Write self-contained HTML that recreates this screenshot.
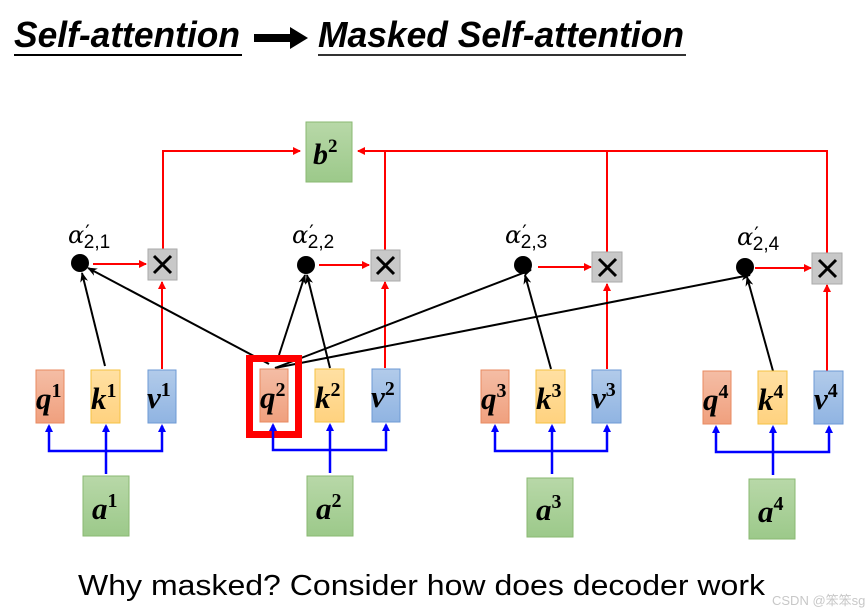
<!DOCTYPE html>
<html><head><meta charset="utf-8"><style>
html,body{margin:0;padding:0;background:#fff;}
svg{display:block;}
</style></head><body>
<svg width="865" height="615" viewBox="0 0 865 615" xmlns="http://www.w3.org/2000/svg">
<defs>
<linearGradient id="gq" x1="0" y1="0" x2="0" y2="1"><stop offset="0" stop-color="#f4bda5"/><stop offset="1" stop-color="#f0a07e"/></linearGradient>
<linearGradient id="gk" x1="0" y1="0" x2="0" y2="1"><stop offset="0" stop-color="#ffe0a3"/><stop offset="1" stop-color="#ffd27f"/></linearGradient>
<linearGradient id="gv" x1="0" y1="0" x2="0" y2="1"><stop offset="0" stop-color="#b2cbea"/><stop offset="1" stop-color="#90b4e2"/></linearGradient>
<linearGradient id="ga" x1="0" y1="0" x2="0" y2="1"><stop offset="0" stop-color="#b8d8a8"/><stop offset="1" stop-color="#9cc98a"/></linearGradient>
<marker id="ar" markerWidth="8" markerHeight="8" refX="7" refY="4" orient="auto" markerUnits="userSpaceOnUse"><path d="M0,0 L8,4 L0,8z" fill="#f00"/></marker>
<marker id="ak" markerWidth="10" markerHeight="8" refX="9" refY="4" orient="auto" markerUnits="userSpaceOnUse"><path d="M0,0 L10,4 L0,8 L3,4z" fill="#000"/></marker>
</defs>

<g font-family="Liberation Sans, sans-serif" font-weight="bold" font-style="italic" font-size="36">
<text x="14" y="47" textLength="226" lengthAdjust="spacingAndGlyphs">Self-attention</text>
<text x="318" y="47" textLength="366" lengthAdjust="spacingAndGlyphs">Masked Self-attention</text>
</g>
<line x1="14" y1="55" x2="242" y2="55" stroke="#000" stroke-width="2"/>
<line x1="318" y1="55" x2="686" y2="55" stroke="#333" stroke-width="2"/>
<path d="M254,34 L290,34 L290,27 L308,38 L290,49 L290,42 L254,42z" fill="#000"/>

<g stroke="#f00" stroke-width="2" fill="none">
<polyline points="163,249 163,151 300,151" marker-end="url(#ar)"/>
<line x1="385" y1="250" x2="385" y2="151"/>
<polyline points="827,253 827,151 358,151" marker-end="url(#ar)"/>
<line x1="607" y1="252" x2="607" y2="151"/>
<line x1="93" y1="264" x2="146" y2="264" marker-end="url(#ar)"/>
<line x1="319" y1="265" x2="369" y2="265" marker-end="url(#ar)"/>
<line x1="538" y1="267" x2="591" y2="267" marker-end="url(#ar)"/>
<line x1="755" y1="268" x2="811" y2="268" marker-end="url(#ar)"/>
<line x1="162" y1="369" x2="162" y2="282" marker-end="url(#ar)"/>
<line x1="385" y1="368" x2="385" y2="282" marker-end="url(#ar)"/>
<line x1="607" y1="369" x2="607" y2="284" marker-end="url(#ar)"/>
<line x1="827" y1="371" x2="827" y2="285" marker-end="url(#ar)"/>
</g>

<rect x="306" y="122" width="46" height="60" fill="url(#ga)" stroke="#8ab872" stroke-width="1"/>
<text x="313" y="164" font-family="Liberation Serif, serif" font-weight="bold" font-style="italic" font-size="30">b<tspan font-size="19" dy="-12" font-style="normal">2</tspan></text>

<g>
<rect x="148" y="249" width="29" height="31" fill="#c8c8c8" stroke="#aaa"/>
<rect x="371" y="250" width="29" height="31" fill="#c8c8c8" stroke="#aaa"/>
<rect x="592" y="252" width="30" height="30" fill="#c8c8c8" stroke="#aaa"/>
<rect x="812" y="253" width="30" height="31" fill="#c8c8c8" stroke="#aaa"/>
</g>
<g stroke="#000" stroke-width="3">
<path d="M154,256 L171,273 M171,256 L154,273"/>
<path d="M377,257 L394,274 M394,257 L377,274"/>
<path d="M599,259 L616,276 M616,259 L599,276"/>
<path d="M819,260 L836,277 M836,260 L819,277"/>
</g>

<g fill="#000">
<circle cx="80" cy="263" r="9"/>
<circle cx="306" cy="265" r="9"/>
<circle cx="523" cy="265" r="9"/>
<circle cx="745" cy="267" r="9"/>
</g>
<g font-family="DejaVu Serif, Liberation Serif, serif" font-size="24" font-style="italic">
<text x="68" y="243">α<tspan font-style="normal" font-size="20" dx="1" dy="-4">′</tspan><tspan font-style="normal" font-family="Liberation Sans, sans-serif" font-size="19" dx="-6" dy="9">2,1</tspan></text>
<text x="292" y="243">α<tspan font-style="normal" font-size="20" dx="1" dy="-4">′</tspan><tspan font-style="normal" font-family="Liberation Sans, sans-serif" font-size="19" dx="-6" dy="9">2,2</tspan></text>
<text x="505" y="243">α<tspan font-style="normal" font-size="20" dx="1" dy="-4">′</tspan><tspan font-style="normal" font-family="Liberation Sans, sans-serif" font-size="19" dx="-6" dy="9">2,3</tspan></text>
<text x="737" y="245">α<tspan font-style="normal" font-size="20" dx="1" dy="-4">′</tspan><tspan font-style="normal" font-family="Liberation Sans, sans-serif" font-size="19" dx="-6" dy="9">2,4</tspan></text>
</g>

<g stroke="#000" stroke-width="2" fill="none">
<line x1="105" y1="366" x2="82" y2="273" marker-end="url(#ak)"/>
<line x1="269" y1="364" x2="88" y2="268" marker-end="url(#ak)"/>
<line x1="279" y1="355" x2="305" y2="275" marker-end="url(#ak)"/>
<line x1="330" y1="368" x2="307" y2="275" marker-end="url(#ak)"/>
<line x1="275" y1="368" x2="531" y2="270" marker-end="url(#ak)"/>
<line x1="275" y1="368" x2="750" y2="275" marker-end="url(#ak)"/>
<line x1="551" y1="369" x2="525" y2="275" marker-end="url(#ak)"/>
<line x1="773" y1="371" x2="747" y2="277" marker-end="url(#ak)"/>
</g>

<g stroke-width="1">
<rect x="36" y="370" width="28" height="53" fill="url(#gq)" stroke="#e88a60"/>
<rect x="91" y="370" width="29" height="53" fill="url(#gk)" stroke="#f5c242"/>
<rect x="148" y="370" width="28" height="53" fill="url(#gv)" stroke="#6d9ad4"/>
<rect x="260" y="369" width="28" height="53" fill="url(#gq)" stroke="#e88a60"/>
<rect x="315" y="369" width="29" height="53" fill="url(#gk)" stroke="#f5c242"/>
<rect x="372" y="369" width="28" height="53" fill="url(#gv)" stroke="#6d9ad4"/>
<rect x="481" y="370" width="28" height="53" fill="url(#gq)" stroke="#e88a60"/>
<rect x="536" y="370" width="29" height="53" fill="url(#gk)" stroke="#f5c242"/>
<rect x="592" y="370" width="29" height="53" fill="url(#gv)" stroke="#6d9ad4"/>
<rect x="703" y="371" width="28" height="53" fill="url(#gq)" stroke="#e88a60"/>
<rect x="758" y="371" width="29" height="53" fill="url(#gk)" stroke="#f5c242"/>
<rect x="814" y="371" width="29" height="53" fill="url(#gv)" stroke="#6d9ad4"/>
</g>
<rect x="249.5" y="358.5" width="49" height="76" fill="none" stroke="#f00" stroke-width="7"/>

<g font-family="Liberation Serif, serif" font-weight="bold" font-style="italic" font-size="31">
<text x="36" y="409">q<tspan font-style="normal" font-size="20" dy="-12">1</tspan></text>
<text x="91" y="409">k<tspan font-style="normal" font-size="20" dy="-12">1</tspan></text>
<text x="147" y="408">v<tspan font-style="normal" font-size="20" dy="-12">1</tspan></text>
<text x="260" y="408">q<tspan font-style="normal" font-size="20" dy="-12">2</tspan></text>
<text x="315" y="408">k<tspan font-style="normal" font-size="20" dy="-12">2</tspan></text>
<text x="371" y="407">v<tspan font-style="normal" font-size="20" dy="-12">2</tspan></text>
<text x="481" y="409">q<tspan font-style="normal" font-size="20" dy="-12">3</tspan></text>
<text x="536" y="409">k<tspan font-style="normal" font-size="20" dy="-12">3</tspan></text>
<text x="592" y="408">v<tspan font-style="normal" font-size="20" dy="-12">3</tspan></text>
<text x="703" y="410">q<tspan font-style="normal" font-size="20" dy="-12">4</tspan></text>
<text x="758" y="410">k<tspan font-style="normal" font-size="20" dy="-12">4</tspan></text>
<text x="814" y="409">v<tspan font-style="normal" font-size="20" dy="-12">4</tspan></text>
</g>

<g stroke="#00f" stroke-width="2.5" fill="none">
<polyline points="49,426 49,451 162,451 162,426"/>
<line x1="106" y1="474" x2="106" y2="426"/>
<polyline points="273,425 273,450 386,450 386,425"/>
<line x1="330" y1="473" x2="330" y2="425"/>
<polyline points="495,426 495,451 607,451 607,426"/>
<line x1="552" y1="474" x2="552" y2="426"/>
<polyline points="716,427 716,452 829,452 829,427"/>
<line x1="773" y1="475" x2="773" y2="427"/>
</g>
<g fill="#00f">
<path d="M49,424 l-4,8 h8z M106,424 l-4,8 h8z M162,424 l-4,8 h8z"/>
<path d="M273,423 l-4,8 h8z M330,423 l-4,8 h8z M386,423 l-4,8 h8z"/>
<path d="M495,424 l-4,8 h8z M552,424 l-4,8 h8z M607,424 l-4,8 h8z"/>
<path d="M716,425 l-4,8 h8z M773,425 l-4,8 h8z M829,425 l-4,8 h8z"/>
</g>

<g stroke="#8ab872" stroke-width="1">
<rect x="83" y="476" width="46" height="60" fill="url(#ga)"/>
<rect x="307" y="476" width="46" height="60" fill="url(#ga)"/>
<rect x="527" y="478" width="46" height="59" fill="url(#ga)"/>
<rect x="749" y="479" width="46" height="60" fill="url(#ga)"/>
</g>
<g font-family="Liberation Serif, serif" font-weight="bold" font-style="italic" font-size="31">
<text x="92" y="519">a<tspan font-style="normal" font-size="20" dy="-12">1</tspan></text>
<text x="316" y="519">a<tspan font-style="normal" font-size="20" dy="-12">2</tspan></text>
<text x="536" y="520">a<tspan font-style="normal" font-size="20" dy="-12">3</tspan></text>
<text x="758" y="522">a<tspan font-style="normal" font-size="20" dy="-12">4</tspan></text>
</g>

<text x="78" y="595" font-family="Liberation Sans, sans-serif" font-size="29" textLength="687" lengthAdjust="spacingAndGlyphs">Why masked?  Consider how does decoder work</text>
<text x="772" y="605" font-family="Liberation Sans, 'Noto Sans CJK SC', sans-serif" font-size="13" fill="#c8c8c8">CSDN @笨笨sg</text>
</svg>
</body></html>
